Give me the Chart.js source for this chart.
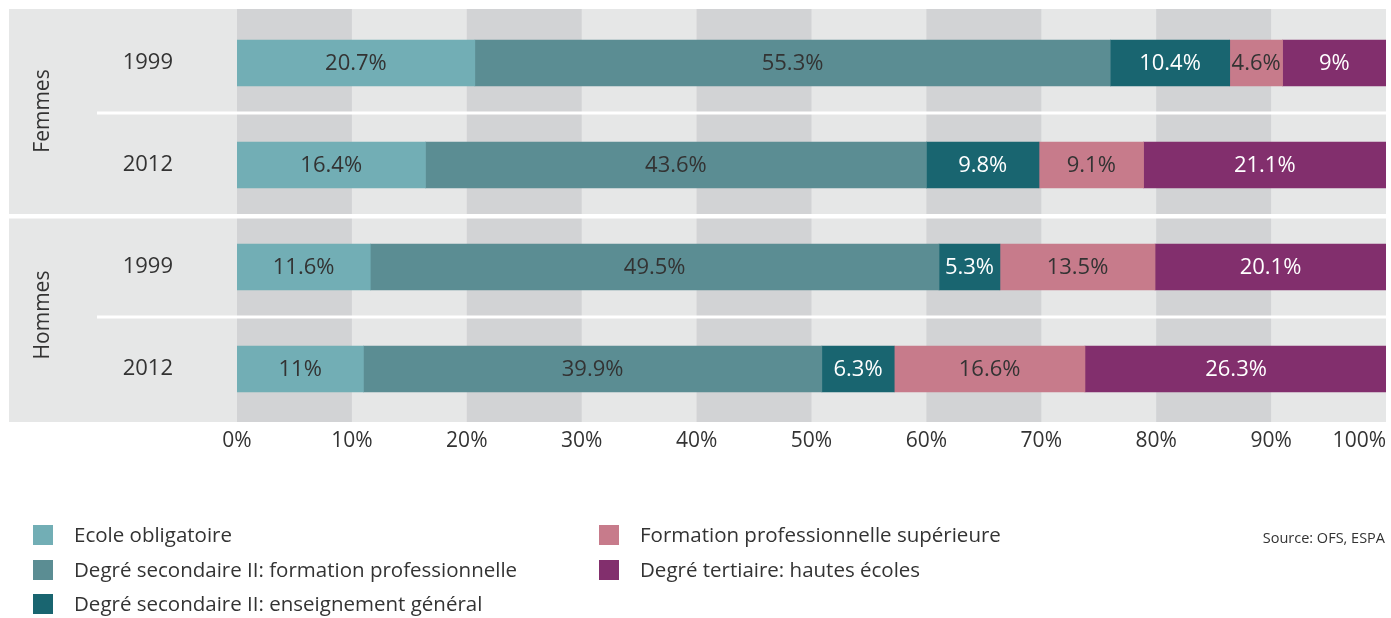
<!DOCTYPE html>
<html>
<head>
<meta charset="utf-8">
<script src="https://cdn.jsdelivr.net/npm/chart.js@4/dist/chart.umd.min.js"></script>
<style>
  html, body { margin: 0; padding: 0; background: #ffffff; }
  #wrap { position: relative; width: 1391px; height: 618px; }
  canvas { display: block; }
</style>
</head>
<body>
<div id="wrap"><canvas id="c" width="1391" height="618"></canvas></div>
<script>
// ---- Data ----
const categories = ['1999', '2012', '1999', '2012'];
const groups = ['Femmes', 'Hommes'];
const seriesNames = [
  'Ecole obligatoire',
  'Degré secondaire II: formation professionnelle',
  'Degré secondaire II: enseignement général',
  'Formation professionnelle supérieure',
  'Degré tertiaire: hautes écoles'
];
const ecoleObligatoire   = [20.7, 16.4, 11.6, 11];
const formationProf      = [55.3, 43.6, 49.5, 39.9];
const enseignementGeneral= [10.4, 9.8, 5.3, 6.3];
const formationSuperieure= [4.6, 9.1, 13.5, 16.6];
const hautesEcoles       = [9, 21.1, 20.1, 26.3];
const xTickValues = [0, 10, 20, 30, 40, 50, 60, 70, 80, 90, 100];
const sourceText = 'Source: OFS, ESPA';

// ---- Styles ----
const FONT = '"Open Sans", "Noto Sans", sans-serif';
const W = '400';
const TEXT = '#333333';
const seriesColors = ['#72aeb5', '#5b8d93', '#196570', '#c77b8b', '#822f6d'];
const labelColors  = [TEXT, TEXT, '#ffffff', TEXT, '#ffffff'];
const BAND_DARK = '#d2d3d5';
const BAND_LIGHT = '#e6e7e7';

const seriesData = [ecoleObligatoire, formationProf, enseignementGeneral, formationSuperieure, hautesEcoles];

const datasets = seriesNames.map((name, i) => ({
  label: name,
  data: seriesData[i],
  backgroundColor: seriesColors[i],
  borderWidth: 0,
  barThickness: 46
}));

const panelPlugin = {
  id: 'panel',
  beforeDraw(chart) {
    const ctx = chart.ctx;
    const xs = chart.scales.x, ys = chart.scales.y;
    const ca = chart.chartArea;
    const top = ca.top - 3, bottom = ca.bottom + 2, left = 9, right = ca.right;
    ctx.save();
    ctx.fillStyle = BAND_LIGHT;
    ctx.fillRect(left, top, right - left, bottom - top);
    ctx.fillStyle = BAND_DARK;
    for (let i = 0; i < xTickValues.length - 1; i += 2) {
      const x0 = xs.getPixelForValue(xTickValues[i]);
      const x1 = xs.getPixelForValue(xTickValues[i + 1]);
      ctx.fillRect(x0, top, x1 - x0, bottom - top);
    }
    ctx.fillStyle = '#ffffff';
    for (let i = 0; i < categories.length - 1; i++) {
      const yb = (ys.getPixelForValue(i) + ys.getPixelForValue(i + 1)) / 2;
      if ((i + 1) % 2 === 0) {
        ctx.fillRect(left, yb - 2, right - left, 4.5);
      } else {
        ctx.fillRect(97, yb - 2.5, right - 97, 3);
      }
    }
    ctx.restore();
  },
  afterDatasetsDraw(chart) {
    const ctx = chart.ctx;
    ctx.save();
    ctx.font = W + ' 22px ' + FONT;
    ctx.textAlign = 'center';
    ctx.textBaseline = 'middle';
    chart.data.datasets.forEach((ds, di) => {
      const meta = chart.getDatasetMeta(di);
      meta.data.forEach((bar, j) => {
        const v = ds.data[j];
        const cx = (bar.x + bar.base) / 2;
        ctx.fillStyle = labelColors[di];
        ctx.fillText(String(v) + '%', cx, bar.y + 1);
      });
    });
    ctx.restore();
  },
  afterDraw(chart) {
    const ctx = chart.ctx;
    const xs = chart.scales.x, ys = chart.scales.y;
    const ca = chart.chartArea;
    ctx.save();
    ctx.font = W + ' 21px ' + FONT;
    ctx.fillStyle = TEXT;
    ctx.textBaseline = 'middle';
    xTickValues.forEach((v, i) => {
      const x = xs.getPixelForValue(v);
      if (i === xTickValues.length - 1) {
        ctx.textAlign = 'right';
        ctx.fillText(v + '%', ca.right, ca.bottom + 21);
      } else {
        ctx.textAlign = 'center';
        ctx.fillText(v + '%', x, ca.bottom + 21);
      }
    });
    ctx.font = W + ' 21px ' + FONT;
    ctx.textAlign = 'center';
    ctx.textBaseline = 'middle';
    groups.forEach((g, gi) => {
      const y0 = ys.getPixelForValue(gi * 2);
      const y1 = ys.getPixelForValue(gi * 2 + 1);
      const cy = (y0 + y1) / 2 - 3;
      ctx.save();
      ctx.translate(43, cy);
      ctx.rotate(-Math.PI / 2);
      ctx.fillText(g, 0, 0);
      ctx.restore();
    });
    const colX = [33, 599];
    const rowY = [525, 560, 594];
    ctx.font = W + ' 20.5px ' + FONT;
    ctx.textAlign = 'left';
    ctx.textBaseline = 'middle';
    chart.data.datasets.forEach((ds, i) => {
      const col = i < 3 ? 0 : 1;
      const row = i < 3 ? i : i - 3;
      const x = colX[col], y = rowY[row];
      ctx.fillStyle = ds.backgroundColor;
      ctx.fillRect(x, y, 20, 20);
      ctx.fillStyle = TEXT;
      ctx.fillText(ds.label, x + 41, y + 11);
    });
    ctx.font = W + ' 14.5px ' + FONT;
    ctx.textAlign = 'right';
    ctx.fillText(sourceText, 1385, 539);
    ctx.restore();
  }
};

new Chart(document.getElementById('c'), {
  type: 'bar',
  data: { labels: categories, datasets: datasets },
  options: {
    indexAxis: 'y',
    responsive: false,
    devicePixelRatio: 1,
    animation: false,
    layout: { padding: { left: 0, right: 5, top: 12, bottom: 198 } },
    plugins: { legend: { display: false }, tooltip: { enabled: false } },
    scales: {
      x: {
        type: 'linear', stacked: true, min: 0, max: 100,
        display: false
      },
      y: {
        type: 'category', stacked: true,
        grid: { display: false, drawTicks: false },
        border: { display: false },
        ticks: {
          color: TEXT,
          font: { family: FONT, size: 22, weight: W },
          crossAlign: 'near',
          padding: 64
        },
        afterFit(scale) {
          scale.width = 237;
          scale.paddingTop = 0;
          scale.paddingBottom = 0;
        }
      }
    }
  },
  plugins: [panelPlugin]
});
</script>
</body>
</html>
